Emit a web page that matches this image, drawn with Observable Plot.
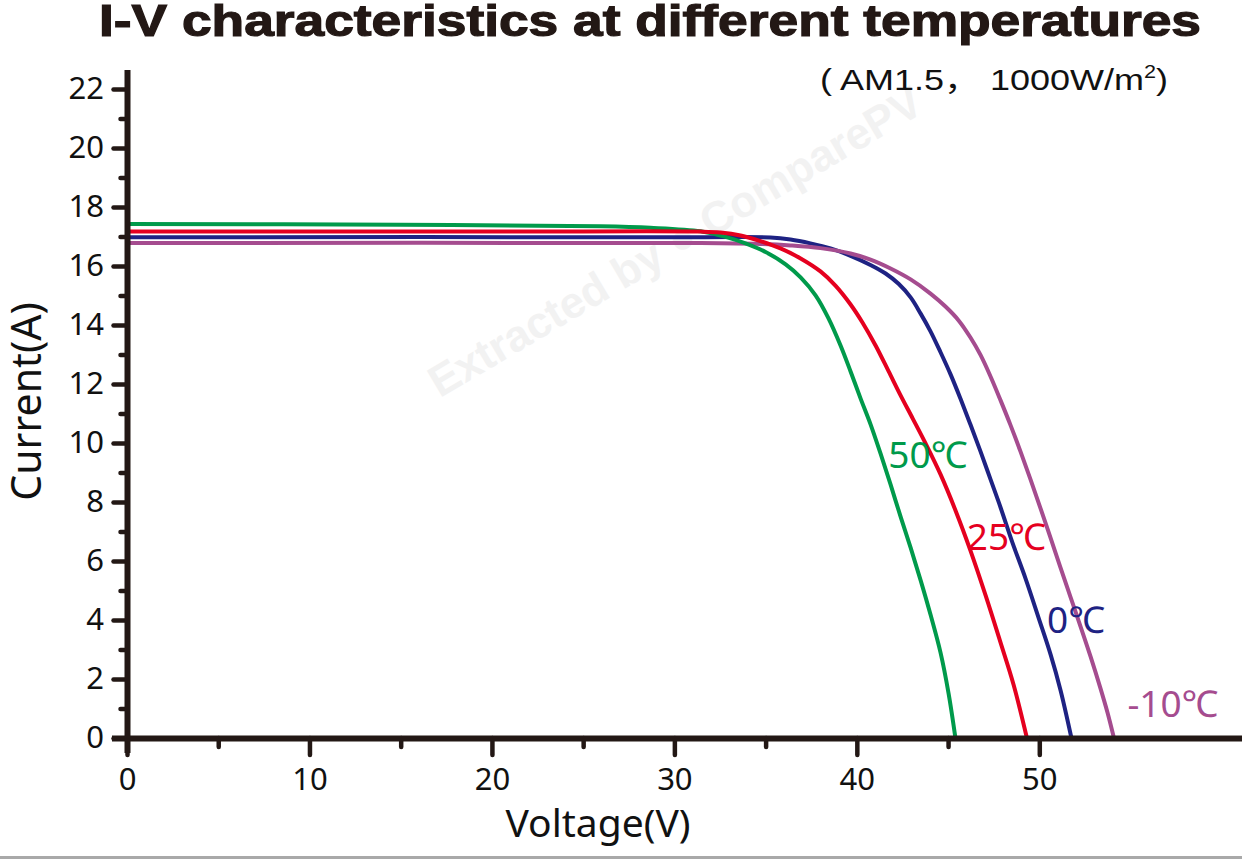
<!DOCTYPE html>
<html>
<head>
<meta charset="utf-8">
<script src="https://cdn.jsdelivr.net/npm/d3@7"></script>
<script src="https://cdn.jsdelivr.net/npm/@observablehq/plot@0.6"></script>
<style>
  body { margin: 0; background: #fff; }
  #wrap { position: relative; width: 1242px; height: 859px; overflow: hidden; background: #fff; }
  #title { position: absolute; left: 99px; top: 3px; font-family: "Liberation Sans", Arial, sans-serif; font-weight: bold; font-size: 44px; line-height: 36px; color: #231815; white-space: nowrap; display: inline-block; transform-origin: 0 0; -webkit-text-stroke: 1.2px #231815; }
  #sub { position: absolute; left: 820px; top: 65px; font-family: "Liberation Sans", Arial, "Noto Sans CJK SC", sans-serif; font-size: 30px; line-height: 30px; color: #111; white-space: nowrap; display: inline-block; transform-origin: 0 0; }
  #sub sup { font-size: 18px; vertical-align: 12px; line-height: 0; }
  #chart { position: absolute; left: 0; top: 50px; }
  #rule { position: absolute; left: 0; top: 856px; width: 1242px; height: 3px; background: #a9a9a9; }
</style>
</head>
<body>
<div id="wrap">
  <div id="chart"></div>
  <div id="title">I-V characteristics at different temperatures</div>
  <div id="sub">( AM1.5， 1000W/m<sup>2</sup>)</div>
  <div id="rule"></div>
</div>
<script>
// ---- data ----
const temps  = ["50℃", "25℃", "0℃", "-10℃"];
const colors = ["#009a4b", "#e5001f", "#1e2283", "#a54c8f"];

// 50 °C
const v50 = [0, 14.96, 25.92, 28.66, 31.41, 32.78, 33.87, 34.97, 36.07, 36.89, 37.71, 38.42, 39.08, 39.63, 40.18, 40.73, 41.27, 41.82, 42.37, 42.92, 43.47, 44.01, 44.56, 45.0, 45.38];
const i50 = [17.44, 17.41, 17.36, 17.31, 17.19, 17.0, 16.78, 16.49, 16.07, 15.63, 15.02, 14.24, 13.32, 12.44, 11.52, 10.64, 9.66, 8.61, 7.52, 6.47, 5.36, 4.2, 2.91, 1.53, 0];

// 25 °C
const v25 = [0, 20.44, 31.41, 32.5, 33.6, 34.69, 35.79, 36.89, 37.98, 38.8, 39.63, 40.28, 41.0, 41.71, 42.37, 43.03, 43.74, 44.56, 45.38, 46.2, 47.03, 47.85, 48.56, 49.3];
const i25 = [17.18, 17.18, 17.18, 17.15, 17.05, 16.86, 16.61, 16.27, 15.83, 15.35, 14.71, 14.1, 13.32, 12.45, 11.63, 10.85, 10.0, 8.95, 7.73, 6.37, 4.85, 3.25, 1.83, 0];

// 0 °C
const v0 = [0, 31.41, 35.24, 36.34, 37.43, 38.53, 39.63, 40.72, 41.55, 42.26, 42.92, 43.47, 44.01, 44.56, 45.11, 45.65, 46.2, 46.75, 47.3, 47.85, 48.5, 49.22, 49.93, 50.59, 51.14, 51.74];
const i0 = [16.99, 16.99, 16.98, 16.91, 16.78, 16.61, 16.36, 16.05, 15.76, 15.41, 14.95, 14.4, 13.8, 13.09, 12.34, 11.52, 10.64, 9.73, 8.78, 7.83, 6.64, 5.42, 4.1, 2.85, 1.63, 0];

// -10 °C
const vm10 = [0, 31.41, 34.69, 36.34, 37.98, 39.63, 40.72, 41.82, 42.92, 44.01, 44.83, 45.55, 46.2, 46.75, 47.3, 47.85, 48.39, 48.94, 49.49, 50.04, 50.59, 51.13, 51.68, 52.23, 52.78, 53.33, 53.71, 54.07];
const im10 = [16.79, 16.79, 16.76, 16.71, 16.62, 16.44, 16.23, 15.93, 15.56, 15.08, 14.64, 14.17, 13.59, 13.0, 12.27, 11.46, 10.63, 9.73, 8.78, 7.8, 6.8, 5.8, 4.8, 3.8, 2.78, 1.69, 0.88, 0];

// curve label anchors (data units: V, A)
const labelV = [41.7, 46.0, 50.4, 54.8];
const labelI = [9.56, 6.78, 3.97, 1.12];

const majorX = [0, 10, 20, 30, 40, 50];
const minorX = [5, 15, 25, 35, 45];
const majorY = [0, 2, 4, 6, 8, 10, 12, 14, 16, 18, 20, 22];
const minorY = [1, 3, 5, 7, 9, 11, 13, 15, 17, 19, 21];

const xLabel = "Voltage(V)";
const yLabel = "Current(A)";
const watermark = "Extracted by ● ComparePV";

// ---- build tables ----
const seriesV = [v50, v25, v0, vm10];
const seriesI = [i50, i25, i0, im10];
const drawOrder = [2, 3, 0, 1];
const rows = drawOrder.flatMap(s => seriesV[s].map((v, k) => ({V: v, I: seriesI[s][k], T: temps[s]})));
const labels = temps.map((t, k) => ({T: t, V: labelV[k], I: labelI[k]}));

const axisColor = "#231815";
const font = "'Noto Sans', 'Noto Sans CJK SC', sans-serif";

const chart = Plot.plot({
  width: 1242,
  height: 806,
  marginTop: 20,
  marginBottom: 118,
  marginLeft: 127,
  marginRight: 2,
  style: {fontFamily: font, background: "transparent", overflow: "visible"},
  x: {domain: [0, 61], axis: null},
  y: {domain: [0, 22.64], axis: null},
  color: {domain: temps, range: colors},
  marks: [
    Plot.text([watermark], {frameAnchor: "top-left", textAnchor: "middle", lineAnchor: "middle", dx: 548, dy: 172, rotate: -30.6, fontSize: 44, fontWeight: "bold", fill: "#f2f2f2", fontFamily: "'Liberation Sans', sans-serif"}),
    Plot.line(rows, {x: "V", y: "I", z: "T", stroke: "T", strokeWidth: 4, curve: "catmull-rom"}),
    Plot.text(labels, {x: "V", y: "I", text: "T", fill: "T", textAnchor: "start", lineAnchor: "middle", fontSize: 37, fontFamily: font}),
    Plot.axisY({ticks: minorY, tickSize: 6.5, tickFormat: () => "", stroke: axisColor, strokeWidth: 4.5, strokeLinecap: "round", label: null}),
    Plot.axisY({ticks: majorY, tickSize: 13.5, tickPadding: 10, stroke: axisColor, strokeWidth: 4.5, strokeLinecap: "round", fontSize: 31, fill: "#111", fontFamily: font, label: null}),
    Plot.axisX({ticks: minorX, tickSize: 9, tickFormat: () => "", stroke: axisColor, strokeWidth: 4.5, strokeLinecap: "round", label: null}),
    Plot.axisX({ticks: majorX, tickSize: 17, tickPadding: 12, stroke: axisColor, strokeWidth: 4.5, strokeLinecap: "round", fontSize: 31, fill: "#111", fontFamily: font, label: null}),
    Plot.ruleY([0], {stroke: axisColor, strokeWidth: 6, insetLeft: -15, insetRight: -2}),
    Plot.ruleX([0], {stroke: axisColor, strokeWidth: 6, insetBottom: -15}),
    Plot.text([xLabel], {frameAnchor: "bottom", textAnchor: "middle", dx: -86, dy: 86, lineAnchor: "middle", fontSize: 39, fill: "#111", fontFamily: font}),
    Plot.text([yLabel], {frameAnchor: "left", textAnchor: "middle", dx: -100, dy: -3, rotate: -90, lineAnchor: "middle", fontSize: 41, fill: "#111", fontFamily: font})
  ]
});
document.getElementById("chart").appendChild(chart);

// stretch the title horizontally to the reference width
const t = document.getElementById("title");
t.style.transform = `scaleX(${1102 / t.getBoundingClientRect().width})`;

// stretch the subtitle horizontally to the reference width
const s = document.getElementById("sub");
s.style.transform = `scaleX(${348 / s.getBoundingClientRect().width})`;
</script>
</body>
</html>
